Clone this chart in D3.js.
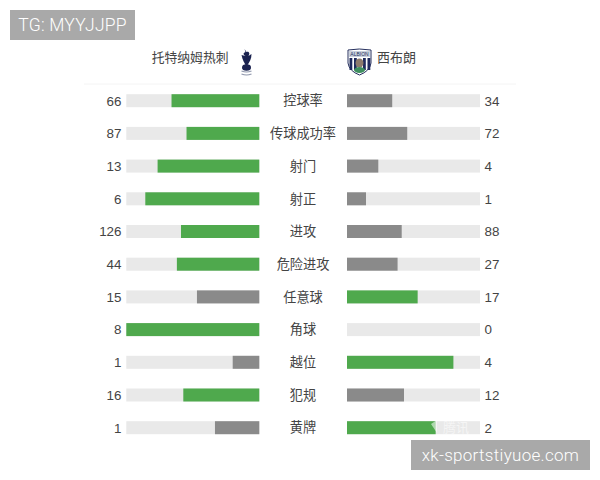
<!DOCTYPE html>
<html><head><meta charset="utf-8">
<script src="https://cdnjs.cloudflare.com/ajax/libs/d3/7.8.5/d3.min.js"></script>
<style>html,body{margin:0;padding:0;background:#fff}svg{display:block}</style>
</head><body><svg id="c" width="600" height="480"></svg>
<script>
const categories=["控球率","传球成功率","射门","射正","进攻","危险进攻","任意球","角球","越位","犯规","黄牌"];
const homeValues=[66,87,13,6,126,44,15,8,1,16,1];
const awayValues=[34,72,4,1,88,27,17,0,4,12,2];
const homeTeam="托特纳姆热刺", awayTeam="西布朗";
const topLabel="TG: MYYJJPP", bottomLabel="xk-sportstiyuoe.com";
const GREEN="#4fa94d",GREY="#8a8a8a",TRACK="#e9e9e9",TXT="#444";
const FONT="'Liberation Sans',Arial,sans-serif", CJK="'Noto Sans CJK SC','Liberation Sans',sans-serif", LIGHT="Roboto,'Liberation Sans',sans-serif";
const svg=d3.select("#c");
const y=d3.scalePoint().domain(categories).range([100.7,427.7]);
const BW=133,BH=13;
const frac=d3.scaleLinear().domain([0,1]).range([0,BW]);
const LR=259.3,RL=347;
svg.append("line").attr("x1",84).attr("x2",516).attr("y1",84).attr("y2",84).attr("stroke","#f4f4f4");
svg.append("text").attr("x",228.5).attr("y",61.8).attr("text-anchor","end").attr("font-family",CJK).attr("font-size",12.8).attr("fill",TXT).text(homeTeam);
svg.append("text").attr("x",377).attr("y",61.8).attr("font-family",CJK).attr("font-size",13).attr("fill",TXT).text(awayTeam);
// home crest
const sp=svg.append("g").attr("transform","translate(246.5,0)");
sp.append("path").attr("d","M-2,49 L-1,52 C-4,53 -3,55 -1,56 L-5,55 C-4,60 -2,63 -1,65 L1,65 C3,62 5,59 5,54 L2,56 C4,53 2,51 0,52 Z").attr("fill","#1b2350");
sp.append("ellipse").attr("cx",0).attr("cy",67.5).attr("rx",4.5).attr("ry",3.2).attr("fill","#1b2350");
sp.append("path").attr("d","M-5,71 Q0,73 5,71 M-5,74 Q0,76 5,74").attr("fill","none").attr("stroke","#8f97ac").attr("stroke-width",1.2);
// away crest
const wb=svg.append("g").attr("transform","translate(348,0)");
wb.append("path").attr("d","M0,50 Q11,48 23,50 L23,63 Q22,71 11.5,75 Q1,71 0,63 Z").attr("fill","#fff").attr("stroke","#26305e").attr("stroke-width",1);
wb.append("rect").attr("x",1).attr("y",51).attr("width",21).attr("height",6).attr("fill","#c9d0dc");
wb.append("text").attr("x",11.5).attr("y",56).attr("text-anchor","middle").attr("font-family",FONT).attr("font-size",5).attr("fill","#26305e").text("ALBION");
[1.5,6,15,19.5].forEach(x=>wb.append("rect").attr("x",x).attr("y",58).attr("width",2.8).attr("height",12).attr("fill","#1f2a5c"));
wb.append("ellipse").attr("cx",11.5).attr("cy",63).attr("rx",4).attr("ry",4.5).attr("fill","#8c7a6c");
wb.append("ellipse").attr("cx",11.5).attr("cy",70).attr("rx",5.5).attr("ry",3).attr("fill","#3f8f5f");
// rows
const rows=svg.selectAll("g.row").data(categories.map((c,i)=>({c,h:homeValues[i],a:awayValues[i]}))).join("g").attr("class","row")
 .attr("transform",d=>`translate(0,${y(d.c)})`);
rows.append("rect").attr("x",LR-BW).attr("y",-BH/2).attr("width",BW).attr("height",BH).attr("fill",TRACK);
rows.append("rect").attr("x",RL).attr("y",-BH/2).attr("width",BW).attr("height",BH).attr("fill",TRACK);
rows.append("rect").attr("x",d=>LR-frac(d.h/(d.h+d.a))).attr("y",-BH/2).attr("width",d=>frac(d.h/(d.h+d.a))).attr("height",BH).attr("fill",d=>d.h>d.a?GREEN:GREY);
rows.append("rect").attr("x",RL).attr("y",-BH/2).attr("width",d=>frac(d.a/(d.h+d.a))).attr("height",BH).attr("fill",d=>d.a>d.h?GREEN:GREY);
rows.append("text").attr("x",121.5).attr("y",0).attr("dy","0.36em").attr("text-anchor","end").attr("font-family",FONT).attr("font-size",13.4).attr("fill",TXT).text(d=>d.h);
rows.append("text").attr("x",484.5).attr("y",0).attr("dy","0.36em").attr("font-family",FONT).attr("font-size",13.4).attr("fill",TXT).text(d=>d.a);
rows.append("text").attr("x",303).attr("y",0).attr("dy","0.36em").attr("text-anchor","middle").attr("font-family",CJK).attr("font-size",13.2).attr("fill",TXT).text(d=>d.c);
// faint watermark over last bar
const wm=svg.append("g").attr("opacity",.55);
wm.append("path").attr("d","M431,424 L437,420 L437,433 Z").attr("fill","#fff");
wm.append("text").attr("x",443).attr("y",432).attr("font-family",CJK).attr("font-size",13).attr("fill","#fff").text("腾讯");
// label boxes
svg.append("rect").attr("x",10).attr("y",10).attr("width",125).attr("height",30).attr("fill","#a9a9a9");
svg.append("text").attr("x",72.5).attr("y",25).attr("dy","0.36em").attr("text-anchor","middle").attr("font-family",LIGHT).attr("font-weight",300).attr("font-size",17.5).attr("letter-spacing",0.2).attr("fill","#fff").text(topLabel);
svg.append("rect").attr("x",411).attr("y",440).attr("width",179).attr("height",30).attr("fill","#a9a9a9");
svg.append("text").attr("x",500.5).attr("y",455).attr("dy","0.36em").attr("text-anchor","middle").attr("font-family",LIGHT).attr("font-weight",300).attr("font-size",17).attr("letter-spacing",0.3).attr("fill","#fff").text(bottomLabel);
</script></body></html>
